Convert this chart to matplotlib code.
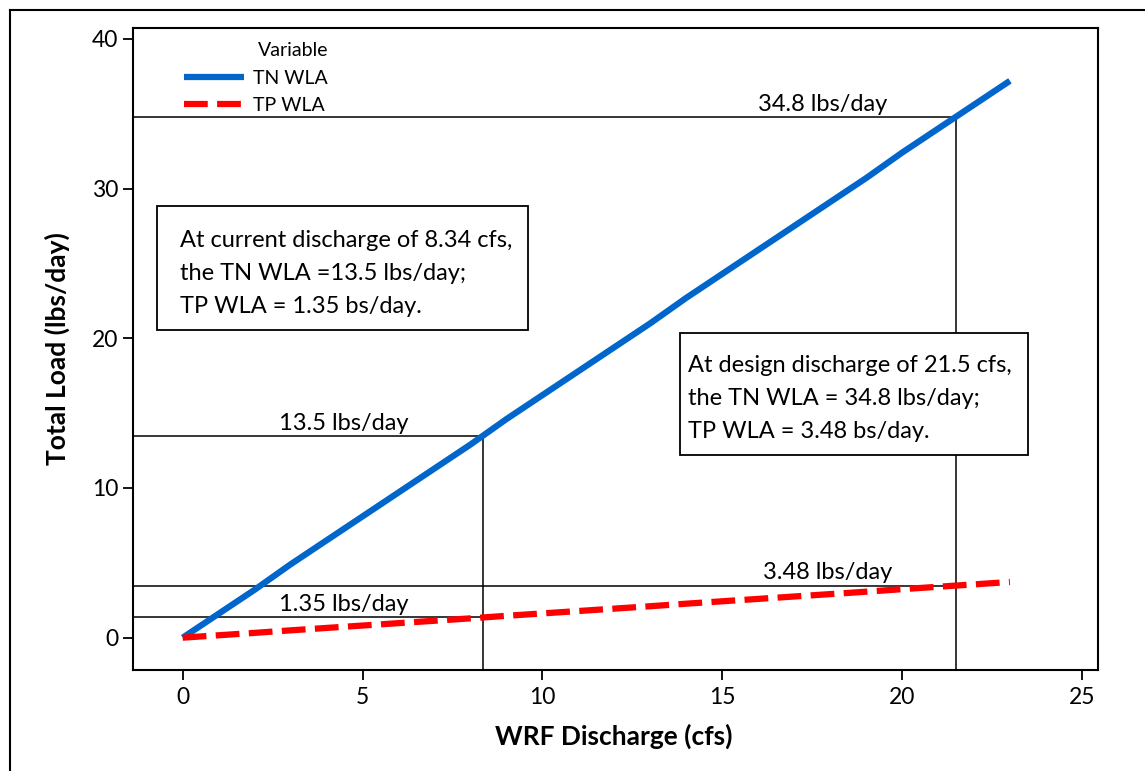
import matplotlib
matplotlib.use("Agg")
import matplotlib.pyplot as plt
from matplotlib.lines import Line2D
from matplotlib.patches import Rectangle

plt.rcParams['font.family'] = ['Lato', 'DejaVu Sans']

# WRF discharge (cfs) and wasteload allocations (lbs/day)
discharge = [0, 1, 2, 3, 4, 5, 6, 7, 8, 9, 10, 11, 12, 13, 14, 15, 16, 17, 18, 19, 20, 21, 22, 23]
tn_wla = [0.0, 1.6, 3.2, 4.9, 6.5, 8.1, 9.7, 11.3, 12.9, 14.6, 16.2, 17.8,
          19.4, 21.0, 22.7, 24.3, 25.9, 27.5, 29.1, 30.7, 32.4, 34.0, 35.6, 37.2]
tp_wla = [0.0, 0.16, 0.32, 0.49, 0.65, 0.81, 0.97, 1.13, 1.29, 1.46, 1.62, 1.78,
          1.94, 2.10, 2.27, 2.43, 2.59, 2.75, 2.91, 3.07, 3.24, 3.40, 3.56, 3.72]

# Reference discharges and the loads read at them
current_q, design_q = 8.34, 21.5
tn_current, tp_current = 13.5, 1.35
tn_design, tp_design = 34.8, 3.48

x_ticks = [0, 5, 10, 15, 20, 25]
y_ticks = [0, 10, 20, 30, 40]

XLIM = (-1.38, 25.45)
YLIM = (-2.16, 40.73)

fig = plt.figure(figsize=(11.45, 7.71), dpi=100)
ax = fig.add_axes([0.1162, 0.131, 0.8428, 0.8327])
ax.set_xlim(*XLIM)
ax.set_ylim(*YLIM)

# outer frame (left and top edges)
fig.add_artist(Line2D([9.5 / 1145, 9.5 / 1145], [0, 1 - 9.5 / 771], color='black', lw=1.5,
                      transform=fig.transFigure))
fig.add_artist(Line2D([9.5 / 1145, 1], [1 - 9.5 / 771, 1 - 9.5 / 771], color='black', lw=1.5,
                      transform=fig.transFigure))

ref_lw = 1.1
# guide lines at the current discharge
ax.plot([XLIM[0], current_q], [tn_current, tn_current], color='black', lw=ref_lw, zorder=1)
ax.plot([XLIM[0], current_q], [tp_current, tp_current], color='black', lw=ref_lw, zorder=1)
ax.plot([current_q, current_q], [YLIM[0], tn_current], color='black', lw=ref_lw, zorder=1)
# guide lines at the design discharge
ax.plot([XLIM[0], design_q], [tn_design, tn_design], color='black', lw=ref_lw, zorder=1)
ax.plot([XLIM[0], design_q], [tp_design, tp_design], color='black', lw=ref_lw, zorder=1)
ax.plot([design_q, design_q], [YLIM[0], tn_design], color='black', lw=ref_lw, zorder=1)

ax.plot(discharge, tn_wla, color='#0066CC', lw=4.5, solid_capstyle='butt', label='TN WLA', zorder=3)
ax.plot(discharge, tp_wla, color='#FF0000', lw=4.5, dashes=(3.8, 1.5), dash_capstyle='butt',
        label='TP WLA', zorder=3)

lbl_fs = 17
for xc, yv in [(17.78, tn_design), (4.47, tn_current), (4.47, tp_current), (17.92, tp_design)]:
    ax.annotate(f"{yv} lbs/day", xy=(xc, yv), xytext=(0, 1.5), textcoords='offset points',
                ha='center', va='bottom', fontsize=lbl_fs)

# annotation boxes
box_lw = 1.3
ax.add_patch(Rectangle((0.0249, 0.5296), 0.409 - 0.0249, 0.7227 - 0.5296, transform=ax.transAxes,
                       fill=True, facecolor='white', edgecolor='black', lw=box_lw, zorder=4))
ax.add_patch(Rectangle((0.567, 0.335), 0.9275 - 0.567, 0.525 - 0.335, transform=ax.transAxes,
                       fill=True, facecolor='white', edgecolor='black', lw=box_lw, zorder=4))
ax.text(0.0487, 0.618,
        f"At current discharge of {current_q} cfs,\nthe TN WLA ={tn_current} lbs/day;\nTP WLA = {tp_current} bs/day.",
        transform=ax.transAxes, ha='left', va='center', fontsize=lbl_fs, linespacing=1.7, zorder=5)
ax.text(0.575, 0.423,
        f"At design discharge of {design_q} cfs,\nthe TN WLA = {tn_design} lbs/day;\nTP WLA = {tp_design} bs/day.",
        transform=ax.transAxes, ha='left', va='center', fontsize=lbl_fs, linespacing=1.7, zorder=5)

ax.set_xticks(x_ticks)
ax.set_yticks(y_ticks)
ax.tick_params(axis='both', direction='out', length=7, width=1.3, labelsize=16.5)
ax.tick_params(axis='x', pad=5)
ax.tick_params(axis='y', pad=3.5)
for s in ax.spines.values():
    s.set_linewidth(1.5)

ax.set_xlabel("WRF Discharge (cfs)", fontsize=19, fontweight='bold', va='center')
ax.set_ylabel("Total Load (lbs/day)", fontsize=19, fontweight='bold', va='center')
ax.xaxis.set_label_coords(0.498, -0.103)
ax.yaxis.set_label_coords(-0.0788, 0.5)

leg = ax.legend(title='Variable', loc='upper left', bbox_to_anchor=(0.053, 0.978), frameon=False,
                fontsize=14, title_fontsize=14, handlelength=3.1, handletextpad=0.46,
                labelspacing=0.54, borderpad=0, borderaxespad=0, alignment='right')

fig.savefig("out.png", dpi=100)
